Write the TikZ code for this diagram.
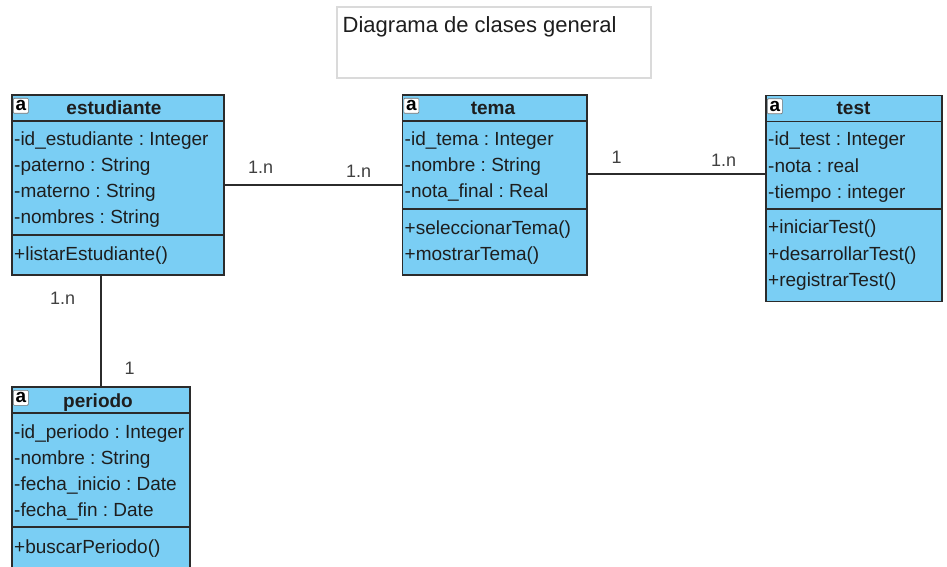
\documentclass[tikz,border=0pt]{standalone}
\usepackage{fontspec}
\setmainfont{Liberation Sans}
\usepackage{tikz}
\usetikzlibrary{positioning}
\usepackage{xcolor}
\definecolor{classfill}{HTML}{7ACEF4}
\definecolor{classline}{HTML}{2B2B2B}
\definecolor{titleline}{HTML}{DADADA}
\definecolor{textdark}{HTML}{1E1E1E}
\frenchspacing
\tikzset{
  classbox/.style={
    rectangle, draw=classline, fill=classfill, line width=1.4pt, inner sep=0pt
  },
  classname/.style={
    font=\fontsize{19}{22}\selectfont\bfseries, text=textdark, inner sep=0pt, anchor=base
  },
  member/.style={
    font=\fontsize{19}{22}\selectfont, text=textdark, inner sep=0pt, anchor=base west
  },
  classicon/.style={
    rectangle, draw=black!55, fill=white, rounded corners=1pt, minimum size=15pt,
    inner sep=0pt, font=\fontsize{19}{19}\selectfont\bfseries, line width=0.6pt
  },
  divider/.style={draw=classline, line width=1.4pt},
  assoc/.style={draw=classline, line width=1.4pt},
  mult/.style={font=\fontsize{18}{20}\selectfont, text=textdark!85, inner sep=0pt, anchor=base west},
}
\begin{document}
\begin{tikzpicture}[x=1pt, y=-1pt]
\useasboundingbox (0,0) rectangle (947,567);

% Title
\node[rectangle, draw=titleline, fill=white, line width=1.2pt, minimum width=314pt, minimum height=71pt, inner sep=0pt] (titlebox) at (494,42.5) {};
\node[font=\fontsize{22}{24}\selectfont, text=textdark, anchor=base west, inner sep=0pt] (title) at (342.5,32.5) {Diagrama de clases general};

% estudiante
\node[classbox, minimum width=212pt, minimum height=180pt] (est) at (118,185) {};
\node[classicon] (est-icon) at (20.8,105.8) {a};
\node[classname] (est-name) at (114,115) {estudiante};
\draw[divider] (est.west |- 0,121) -- (est.east |- 0,121);
\node[member] (est-a1) at (14,145) {-id\_estudiante : Integer};
\node[member] (est-a2) at (14,171) {-paterno : String};
\node[member] (est-a3) at (14,197) {-materno : String};
\node[member] (est-a4) at (14,223) {-nombres : String};
\draw[divider] (est.west |- 0,235) -- (est.east |- 0,235);
\node[member] (est-m1) at (14,260) {+listarEstudiante()};

% tema
\node[classbox, minimum width=184.5pt, minimum height=180pt] (tema) at (494.75,185) {};
\node[classicon] (tema-icon) at (411.3,105.8) {a};
\node[classname] (tema-name) at (493,115) {tema};
\draw[divider] (tema.west |- 0,121) -- (tema.east |- 0,121);
\node[member] (tema-a1) at (404.5,145) {-id\_tema : Integer};
\node[member] (tema-a2) at (404.5,171) {-nombre : String};
\node[member] (tema-a3) at (404.5,197) {-nota\_final : Real};
\draw[divider] (tema.west |- 0,209) -- (tema.east |- 0,209);
\node[member] (tema-m1) at (404.5,234) {+seleccionarTema()};
\node[member] (tema-m2) at (404.5,260) {+mostrarTema()};

% test
\node[classbox, minimum width=176pt, minimum height=206pt] (test) at (854,198.5) {};
\node[classicon] (test-icon) at (774.8,106.3) {a};
\node[classname] (test-name) at (853.5,115) {test};
\draw[divider] (test.west |- 0,121.5) -- (test.east |- 0,121.5);
\node[member] (test-a1) at (768,146) {-id\_test : Integer};
\node[member] (test-a2) at (768,172) {-nota : real};
\node[member] (test-a3) at (768,198) {-tiempo : integer};
\draw[divider] (test.west |- 0,209) -- (test.east |- 0,209);
\node[member] (test-m1) at (768,233) {+iniciarTest()};
\node[member] (test-m2) at (768,260) {+desarrollarTest()};
\node[member] (test-m3) at (768,286) {+registrarTest()};

% periodo
\node[classbox, minimum width=178pt, minimum height=188pt] (per) at (101,481) {};
\node[classicon] (per-icon) at (20.8,397.8) {a};
\node[classname] (per-name) at (98,407) {periodo};
\draw[divider] (per.west |- 0,413) -- (per.east |- 0,413);
\node[member] (per-a1) at (14,438) {-id\_periodo : Integer};
\node[member] (per-a2) at (14,464) {-nombre : String};
\node[member] (per-a3) at (14,490) {-fecha\_inicio : Date};
\node[member] (per-a4) at (14,516) {-fecha\_fin : Date};
\draw[divider] (per.west |- 0,527) -- (per.east |- 0,527);
\node[member] (per-m1) at (14,553) {+buscarPeriodo()};

% Associations
\draw[assoc] (est.east) -- (tema.west);
\draw[assoc] ([yshift=11pt]tema.east) -- ([yshift=11pt]tema.east -| test.west);
\draw[assoc] (est.south -| per.north) -- (per.north);

% Multiplicities
\node[mult] (mult-et) at (248,173.3) {1.n};
\node[mult] (mult-te) at (346,177.3) {1.n};
\node[mult] (mult-tt) at (611.5,163.3) {1};
\node[mult] (mult-ts) at (711,166.7) {1.n};
\node[mult] (mult-ep) at (50,304.3) {1.n};
\node[mult] (mult-pe) at (124.5,374.3) {1};

\end{tikzpicture}
\end{document}
